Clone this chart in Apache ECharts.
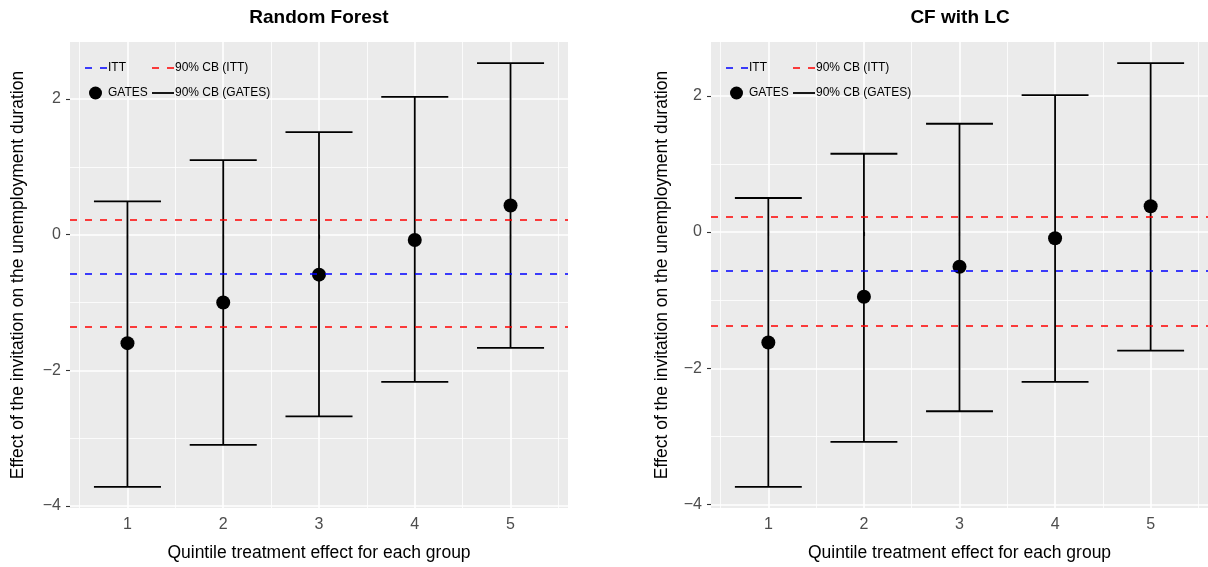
<!DOCTYPE html>
<html>
<head>
<meta charset="utf-8">
<script src="https://cdn.jsdelivr.net/npm/echarts@6/dist/echarts.min.js"></script>
<style>
html,body{margin:0;padding:0;background:#fff;}
#chart{width:1208px;height:567px;}
</style>
</head>
<body>
<div id="chart"></div>
<script>
// ---- data ----
const groups = [1, 2, 3, 4, 5];
const xTicks = [1, 2, 3, 4, 5];
const xMinor = [0.5, 1.5, 2.5, 3.5, 4.5, 5.5];
const yTicks = [-4, -2, 0, 2];
const yMinor = [-3, -1, 1];

const rfGates = [-1.60, -1.00, -0.59, -0.08, 0.43];
const rfLower = [-3.72, -3.10, -2.68, -2.17, -1.67];
const rfUpper = [0.49, 1.10, 1.51, 2.03, 2.53];
const rfItt = -0.57;
const rfCb = [0.22, -1.36];

const cfGates = [-1.62, -0.95, -0.51, -0.09, 0.38];
const cfLower = [-3.74, -3.08, -2.63, -2.20, -1.74];
const cfUpper = [0.50, 1.15, 1.59, 2.01, 2.48];
const cfItt = -0.57;
const cfCb = [0.23, -1.37];

const titles = ['Random Forest', 'CF with LC'];
const xTitle = 'Quintile treatment effect for each group';
const yTitle = 'Effect of the invitation on the unemployment duration';

// ---- layout ----
const FONT = '"Liberation Sans", Arial, Helvetica, sans-serif';
const panels = [
  {left: 70, top: 42, width: 498, height: 470, ymin: -4.03, ymax: 2.84, yGap: 43,
   gates: rfGates, lower: rfLower, upper: rfUpper, itt: rfItt, cb: rfCb},
  {left: 711, top: 42, width: 498, height: 470, ymin: -4.05, ymax: 2.79, yGap: 40,
   gates: cfGates, lower: cfLower, upper: cfUpper, itt: cfItt, cb: cfCb}
];

const grid = [], xAxis = [], yAxis = [], series = [], graphic = [];

panels.forEach((p, i) => {
  grid.push({left: p.left, top: p.top, width: p.width, height: p.height,
    show: true, backgroundColor: '#EBEBEB', borderWidth: 0, containLabel: false});

  // major x axis
  xAxis.push({
    type: 'value', gridIndex: i, min: 0.4, max: 5.6,
    axisLine: {show: false},
    axisTick: {show: true, customValues: xTicks, length: 4, lineStyle: {color: '#333', width: 1.1}},
    axisLabel: {show: true, customValues: xTicks, color: '#4D4D4D', fontSize: 16, fontFamily: FONT, margin: 9},
    splitLine: {show: true, lineStyle: {color: '#FFFFFF', width: 1.6}},
    name: xTitle, nameLocation: 'middle', nameGap: 36,
    nameTextStyle: {color: '#000', fontSize: 17.5, fontFamily: FONT}
  });
  // minor x axis (grid only)
  xAxis.push({
    type: 'value', gridIndex: i, min: 0.4, max: 5.6, position: 'bottom',
    axisLine: {show: false},
    axisTick: {show: false, customValues: xMinor},
    axisLabel: {show: false, customValues: xMinor},
    splitLine: {show: true, lineStyle: {color: '#FFFFFF', width: 0.8}}
  });
  // major y axis
  yAxis.push({
    type: 'value', gridIndex: i, min: p.ymin, max: p.ymax,
    axisLine: {show: false},
    axisTick: {show: true, customValues: yTicks, length: 4, lineStyle: {color: '#333', width: 1.1}},
    axisLabel: {show: true, customValues: yTicks, color: '#4D4D4D', fontSize: 16, fontFamily: FONT, margin: 9,
      formatter: v => (v < 0 ? '\u2212' + Math.abs(v) : String(v))},
    splitLine: {show: true, lineStyle: {color: '#FFFFFF', width: 1.6}},
    name: yTitle, nameLocation: 'middle', nameGap: p.yGap,
    nameTextStyle: {color: '#000', fontSize: 17.5, fontFamily: FONT}
  });
  // minor y axis
  yAxis.push({
    type: 'value', gridIndex: i, min: p.ymin, max: p.ymax, position: 'left',
    axisLine: {show: false},
    axisTick: {show: false, customValues: yMinor},
    axisLabel: {show: false, customValues: yMinor},
    splitLine: {show: true, lineStyle: {color: '#FFFFFF', width: 0.8}}
  });

  const xi = i * 2, yi = i * 2;

  // horizontal reference lines
  series.push({
    type: 'line', xAxisIndex: xi, yAxisIndex: yi, data: [], z: 2, silent: true,
    markLine: {
      silent: true, symbol: 'none', label: {show: false}, animation: false,
      data: [
        {yAxis: p.itt, lineStyle: {color: '#0000FF', type: [7, 8], width: 1.5}},
        {yAxis: p.cb[0], lineStyle: {color: '#FF0000', type: [7, 8], width: 1.5}},
        {yAxis: p.cb[1], lineStyle: {color: '#FF0000', type: [7, 8], width: 1.5}}
      ]
    }
  });

  // error bars
  series.push({
    type: 'custom', xAxisIndex: xi, yAxisIndex: yi, z: 3, silent: true,
    data: groups.map((g, k) => [g, p.lower[k], p.upper[k]]),
    encode: {x: 0, y: [1, 2]},
    renderItem: function (params, api) {
      const x = api.value(0), lo = api.value(1), hi = api.value(2);
      const a = api.coord([x, lo]), b = api.coord([x, hi]);
      const half = api.size([0.35, 0])[0];
      const st = {stroke: '#000', lineWidth: 1.8};
      return {type: 'group', children: [
        {type: 'line', shape: {x1: a[0], y1: a[1], x2: b[0], y2: b[1]}, style: st},
        {type: 'line', shape: {x1: a[0] - half, y1: a[1], x2: a[0] + half, y2: a[1]}, style: st},
        {type: 'line', shape: {x1: b[0] - half, y1: b[1], x2: b[0] + half, y2: b[1]}, style: st}
      ]};
    }
  });

  // GATES points
  series.push({
    type: 'scatter', xAxisIndex: xi, yAxisIndex: yi, z: 4, silent: true,
    symbol: 'circle', symbolSize: 14, itemStyle: {color: '#000', opacity: 1},
    data: groups.map((g, k) => [g, p.gates[k]])
  });

  // title
  graphic.push({type: 'text', x: p.left + p.width / 2, y: 18,
    style: {text: titles[i], font: 'bold 19px ' + FONT, fill: '#000', align: 'center', verticalAlign: 'middle'}});

  // legend inside panel
  const L = p.left, T = p.top;
  const r1 = T + 26, r2 = T + 51;
  graphic.push(
    {type: 'line', shape: {x1: L + 15, y1: r1, x2: L + 37, y2: r1},
     style: {stroke: '#0000FF', lineWidth: 1.5, lineDash: [7, 8]}, z: 10},
    {type: 'text', x: L + 38, y: r1, z: 10,
     style: {text: 'ITT', font: '12px ' + FONT, fill: '#000', align: 'left', verticalAlign: 'middle'}},
    {type: 'line', shape: {x1: L + 82, y1: r1, x2: L + 104, y2: r1},
     style: {stroke: '#FF0000', lineWidth: 1.5, lineDash: [7, 8]}, z: 10},
    {type: 'text', x: L + 105, y: r1, z: 10,
     style: {text: '90% CB (ITT)', font: '12px ' + FONT, fill: '#000', align: 'left', verticalAlign: 'middle'}},
    {type: 'circle', shape: {cx: L + 25.5, cy: r2, r: 6.5}, style: {fill: '#000'}, z: 10},
    {type: 'text', x: L + 38, y: r2, z: 10,
     style: {text: 'GATES', font: '12px ' + FONT, fill: '#000', align: 'left', verticalAlign: 'middle'}},
    {type: 'line', shape: {x1: L + 82, y1: r2, x2: L + 104, y2: r2},
     style: {stroke: '#000', lineWidth: 1.8}, z: 10},
    {type: 'text', x: L + 105, y: r2, z: 10,
     style: {text: '90% CB (GATES)', font: '12px ' + FONT, fill: '#000', align: 'left', verticalAlign: 'middle'}}
  );
});

const chart = echarts.init(document.getElementById('chart'), null, {renderer: 'canvas'});
chart.setOption({
  animation: false,
  backgroundColor: '#FFFFFF',
  textStyle: {fontFamily: FONT},
  grid: grid, xAxis: xAxis, yAxis: yAxis, series: series, graphic: graphic
});
</script>
</body>
</html>
